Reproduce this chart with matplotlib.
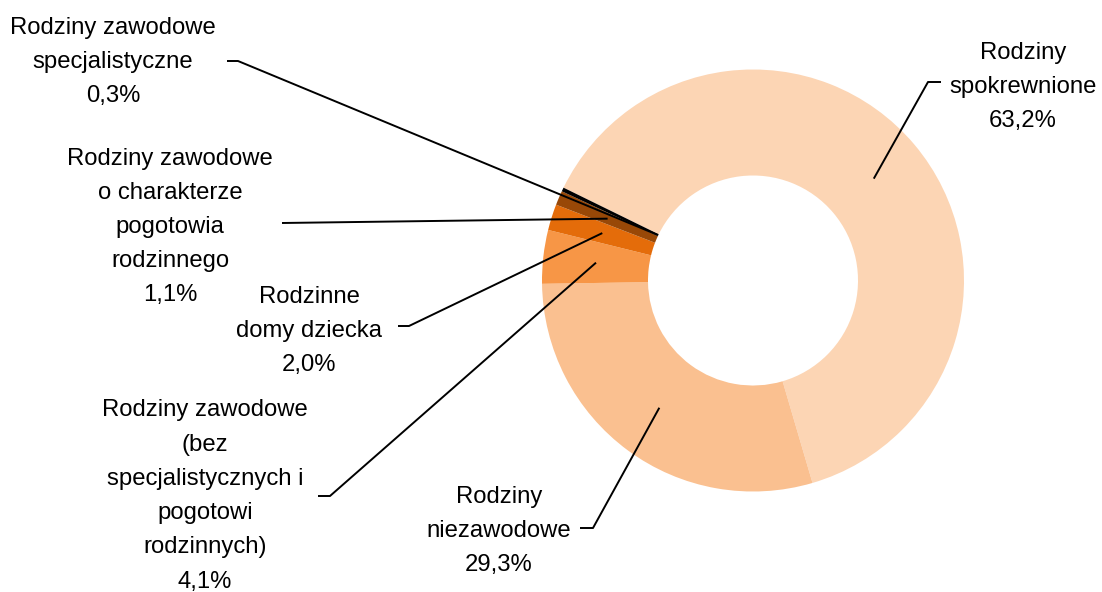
import numpy as np
import matplotlib.pyplot as plt

plt.rcParams['font.family'] = ['Liberation Sans', 'DejaVu Sans']

labels = ['Rodziny\nspokrewnione',
          'Rodziny\nniezawodowe',
          'Rodziny zawodowe\n(bez\nspecjalistycznych i\npogotowi\nrodzinnych)',
          'Rodzinne\ndomy dziecka',
          'Rodziny zawodowe\no charakterze\npogotowia\nrodzinnego',
          'Rodziny zawodowe\nspecjalistyczne']
shares = [63.2, 29.3, 4.1, 2.0, 1.1, 0.3]
colors = ['#FCD5B4', '#FAC090', '#F79646', '#E46C0A', '#984807', '#000000']

# label layout in pixels (x, y measured from top)
text_pos = [(1023, 87), (499, 531), (205, 496), (309, 331), (170, 227), (113, 62)]
elbows = [[(941, 82), (928, 82)],
          [(580, 528), (593, 528)],
          [(318, 496), (330, 496)],
          [(398, 326), (409, 326)],
          [(282, 223)],
          [(227, 61), (238, 61)]]
anchor_r = [158, 158, 158, 158, 158, 106]

W, H = 1102, 592
cx, cy = 753, H - 280.5

fig = plt.figure(figsize=(W / 100, H / 100), dpi=100)
ax = fig.add_axes([0, 0, 1, 1])

wedges, _ = ax.pie(shares, colors=colors, startangle=153.9, counterclock=False,
                   center=(cx, cy), radius=211,
                   wedgeprops=dict(width=106, linewidth=0))
ax.set_xlim(0, W)
ax.set_ylim(0, H)
ax.axis('off')

for w, lab, val, tp, el, r in zip(wedges, labels, shares, text_pos, elbows, anchor_r):
    mid = np.deg2rad((w.theta1 + w.theta2) / 2)
    ax_pt = (cx + r * np.cos(mid), cy + r * np.sin(mid))
    xs = [p[0] for p in el] + [ax_pt[0]]
    ys = [H - p[1] for p in el] + [ax_pt[1]]
    ax.plot(xs, ys, color='black', lw=1.4, solid_capstyle='butt')
    txt = lab + '\n' + ('%.1f%%' % val).replace('.', ',')
    ax.text(tp[0], H - tp[1], txt, ha='center', va='center', ma='center',
            fontsize=17.2, linespacing=1.72, color='black')

fig.savefig('out.png', dpi=100)
